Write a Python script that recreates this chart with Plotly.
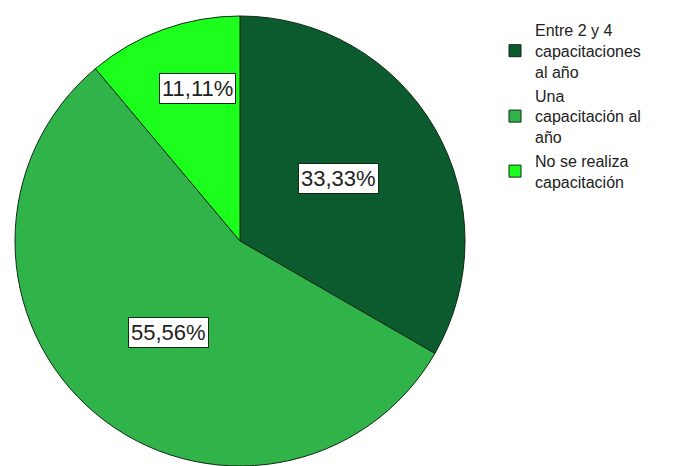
import math
import plotly.graph_objects as go

# Frecuencia de capacitaciones (porcentajes)
categorias = [
    "Entre 2 y 4<br>capacitaciones<br>al año",
    "Una<br>capacitación al<br>año",
    "No se realiza<br>capacitación",
]
porcentajes = [33.33, 55.56, 11.11]
etiquetas = ["33,33%", "55,56%", "11,11%"]

colores = ["#0c5b2e", "#30b44a", "#1cff1c"]

W, H = 681, 466
top_margin = 16
cx_px, radius_px = 240, 225
cy_px = top_margin + radius_px
plot_h = H - top_margin

fig = go.Figure(
    go.Pie(
        labels=categorias,
        values=porcentajes,
        sort=False,
        direction="clockwise",
        rotation=0,
        marker=dict(colors=colores, line=dict(color="#0d2a14", width=1)),
        textinfo="none",
        hoverinfo="label+percent",
        domain=dict(x=[(cx_px - radius_px) / W, (cx_px + radius_px) / W], y=[0, 1]),
    )
)

# Value boxes: placed inside each slice at a fraction of its angular span
# (label_span) and of the radius (label_radius)
label_span = [0.48, 0.49, 0.61]
label_radius = [0.517, 0.514, 0.706]
total = sum(porcentajes)
start = 0.0
for val, txt, sf, rf in zip(porcentajes, etiquetas, label_span, label_radius):
    ang = (start + val * sf) / total * 2 * math.pi
    start += val
    px = cx_px + rf * radius_px * math.sin(ang)
    py = cy_px - rf * radius_px * math.cos(ang)
    fig.add_annotation(
        x=px / W,
        y=(H - py) / plot_h,
        xref="paper",
        yref="paper",
        xanchor="center",
        yanchor="middle",
        text=txt,
        showarrow=False,
        font=dict(family="Liberation Sans, Arial", size=22, color="#222222"),
        bgcolor="white",
        bordercolor="#142a18",
        borderwidth=1,
        borderpad=2,
    )

fig.update_layout(
    width=W,
    height=H,
    margin=dict(l=0, r=0, t=top_margin, b=0),
    paper_bgcolor="white",
    plot_bgcolor="white",
    font=dict(family="Liberation Sans, Arial", size=16, color="#222222"),
    legend=dict(
        x=495 / W,
        y=(H - 13) / plot_h,
        xanchor="left",
        yanchor="top",
        font=dict(size=16, color="#222222"),
        tracegroupgap=0,
        itemwidth=30,
        bgcolor="rgba(0,0,0,0)",
    ),
)

fig.write_html("out.html")
